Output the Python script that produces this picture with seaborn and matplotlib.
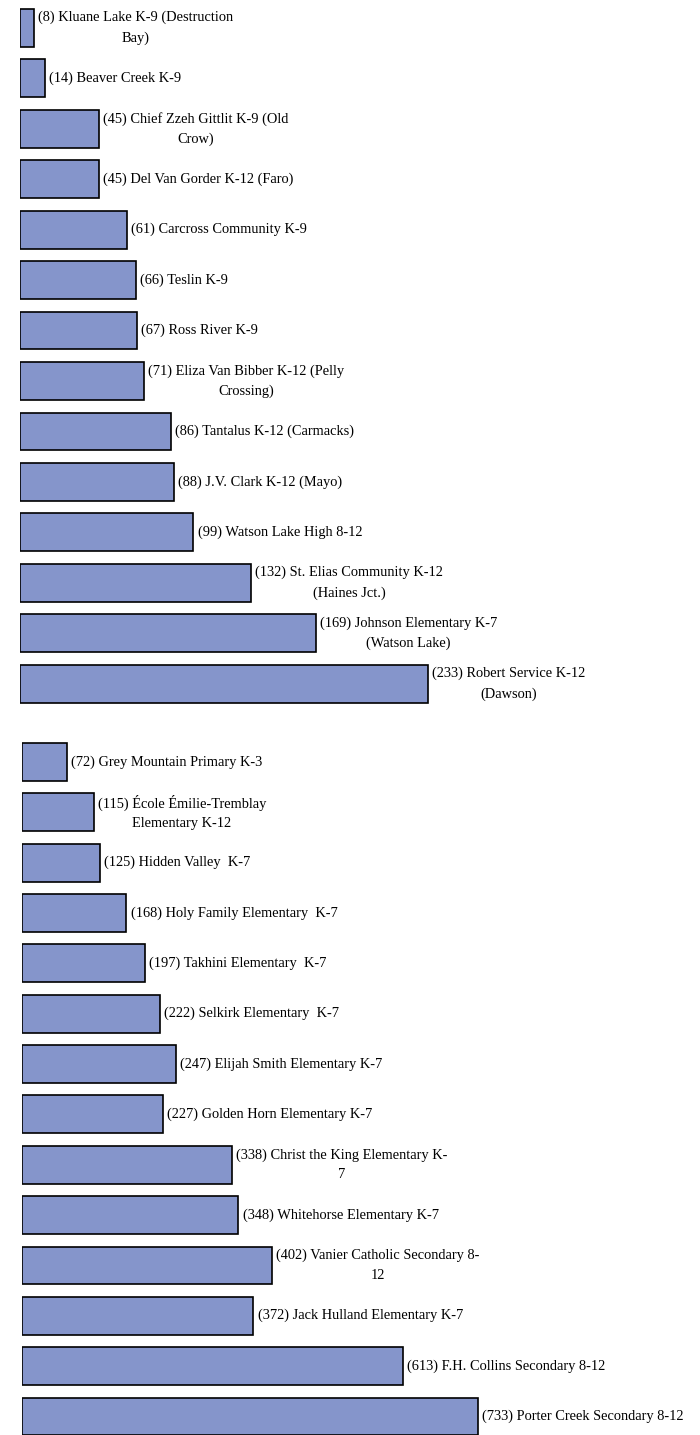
import pandas as pd
import matplotlib.pyplot as plt
import seaborn as sns

# rural schools (top group)
rural_names = ['Kluane Lake K-9 (Destruction\nBay)', 'Beaver Creek K-9',
               'Chief Zzeh Gittlit K-9 (Old\nCrow)', 'Del Van Gorder K-12 (Faro)',
               'Carcross Community K-9', 'Teslin K-9', 'Ross River K-9',
               'Eliza Van Bibber K-12 (Pelly\nCrossing)', 'Tantalus K-12 (Carmacks)',
               'J.V. Clark K-12 (Mayo)', 'Watson Lake High 8-12',
               'St. Elias Community K-12\n(Haines Jct.)',
               'Johnson Elementary K-7\n(Watson Lake)',
               'Robert Service K-12\n(Dawson)']
rural_values = [8, 14, 45, 45, 61, 66, 67, 71, 86, 88, 99, 132, 169, 233]

# Whitehorse schools (bottom group)
city_names = ['Grey Mountain Primary K-3', 'École Émilie-Tremblay\nElementary K-12',
              'Hidden Valley  K-7', 'Holy Family Elementary  K-7',
              'Takhini Elementary  K-7', 'Selkirk Elementary  K-7',
              'Elijah Smith Elementary K-7', 'Golden Horn Elementary K-7',
              'Christ the King Elementary K-\n7', 'Whitehorse Elementary K-7',
              'Vanier Catholic Secondary 8-\n12', 'Jack Hulland Elementary K-7',
              'F.H. Collins Secondary 8-12', 'Porter Creek Secondary 8-12']
city_values = [72, 115, 125, 168, 197, 222, 247, 227, 338, 348, 402, 372, 613, 733]

bar_color = '#8595CB'

fig = plt.figure(figsize=(7, 14.35), dpi=100)
plt.rcParams['font.family'] = ['Liberation Serif', 'DejaVu Serif']

W, H = 700, 1435
# axes placed in pixel terms
ax1 = fig.add_axes([20 / W, 1 - 709 / H, 680 / W, (709 - 2.5) / H])
ax2 = fig.add_axes([22 / W, 1 - 1441.6 / H, 678 / W, (1441.6 - 736.8) / H])


def draw(ax, names, values, xmax):
    df = pd.DataFrame({'name': names, 'value': values})
    sns.barplot(data=df, x='value', y='name', orient='h', color=bar_color,
                saturation=1, width=0.75, edgecolor='black', linewidth=1.2, ax=ax)
    ax.set_xlim(0, xmax)
    for i, (n, v) in enumerate(zip(names, values)):
        ax.annotate(f'({v}) {n}', xy=(v, i), xytext=(3, 0),
                    textcoords='offset points', ha='left', va='center',
                    multialignment='center', fontsize=10.4, linespacing=1.65,
                    annotation_clip=False)
    ax.set_xlabel('')
    ax.set_ylabel('')
    ax.set_xticks([])
    ax.set_yticks([])
    for s in ax.spines.values():
        s.set_visible(False)
    ax.patch.set_alpha(0)


draw(ax1, rural_names, rural_values, 680 / 1.751)
draw(ax2, city_names, city_values, 678 / 0.622)

fig.savefig('out.png', dpi=100)
